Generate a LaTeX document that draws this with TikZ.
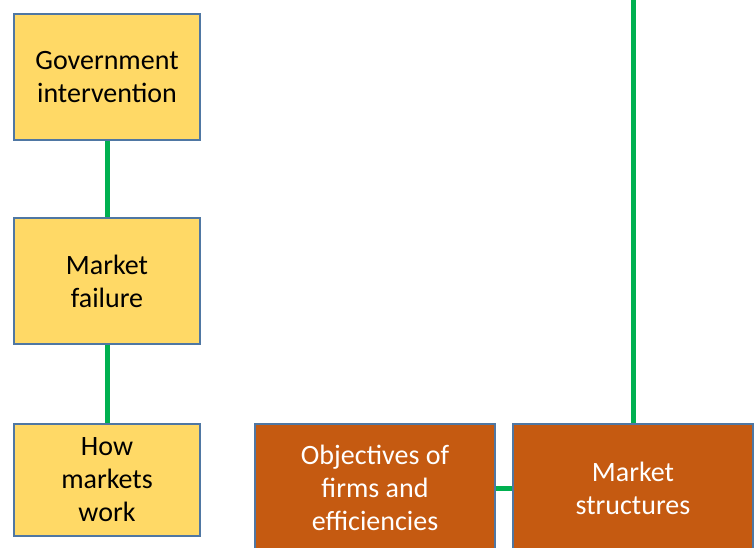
\documentclass[tikz,border=0pt]{standalone}
\usepackage{fontspec}
\setmainfont{Carlito}
\usepackage{tikz}
\usetikzlibrary{positioning}

\definecolor{boxgold}{HTML}{FFD966}
\definecolor{boxrust}{HTML}{C55A11}
\definecolor{boxedge}{HTML}{4F77A3}
\definecolor{linkgreen}{HTML}{00B050}

\begin{document}
\begin{tikzpicture}[
        x=1pt, y=-1pt,
        every node/.style={rectangle, draw=boxedge, line width=2.2pt, align=center,
            inner sep=0pt, font=\fontsize{28}{33}\selectfont},
        topic/.style={fill=boxgold, text=black, minimum width=186pt},
        unit/.style={fill=boxrust, text=white, minimum width=240pt, minimum height=128pt},
        link/.style={linkgreen, line width=5pt}
    ]
        \useasboundingbox (0,0) rectangle (756,547);

        % Linke Spalte
        \node [topic, minimum height=126pt] (gov) at (107,77) {Government\\intervention};
        \node [topic, minimum height=126pt] (fail) at (107,281) {Market\\failure};
        \node [topic, minimum height=112pt] (work) at (107,480) {How\\markets\\work};

        % Untere Reihe
        \node [unit] (obj) at (375,488) {Objectives of\\firms and\\efficiencies};
        \node [unit] (struct) at (633,488) {Market\\structures};
        \coordinate (top) at (633,-5);

        % Verbindungen
        \draw [link] (gov) -- (fail);
        \draw [link] (fail) -- (work);
        \draw [link] (obj) -- (struct);
        \draw [link] (top) -- (struct);
    \end{tikzpicture}
\end{document}
